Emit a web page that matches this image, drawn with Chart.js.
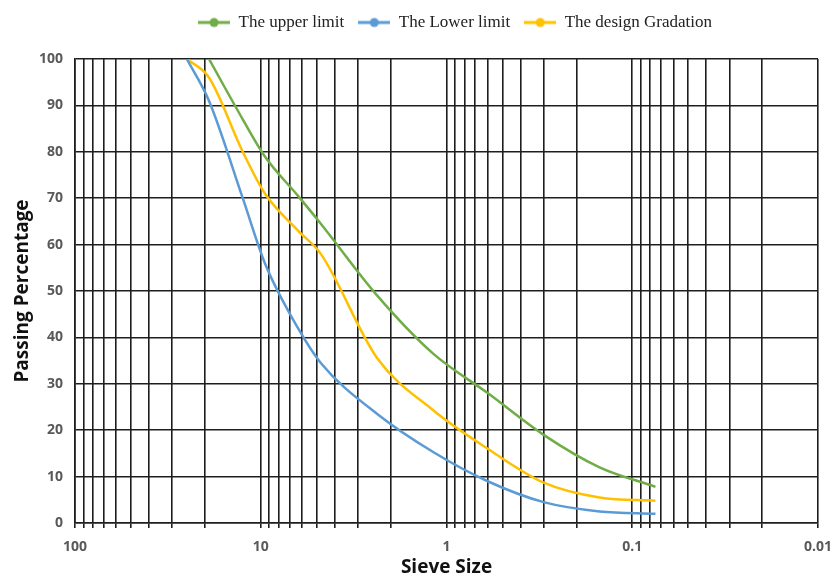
<!DOCTYPE html>
<html>
<head>
<meta charset="utf-8">
<script src="https://cdn.jsdelivr.net/npm/chart.js@4"></script>
<style>
  html, body { margin: 0; padding: 0; background: #fff; }
  #wrap { width: 833px; height: 579px; }
</style>
</head>
<body>
<div id="wrap"><canvas id="gradation-chart" width="833" height="579"></canvas></div>
<script>
// sieve sizes (mm) and passing percentages
var sieves = [25, 19, 12.5, 9.5, 6.3, 4.75, 2.36, 1.18, 0.6, 0.3, 0.15, 0.075];
var upperLimit = [null, 100, 87, 79, 70.5, 64.5, 49, 36.5, 28, 19, 12, 7.8];
var lowerLimit = [100, 91, 70, 56, 42, 34.5, 23.5, 15.3, 9, 4.5, 2.5, 2];
var designGradation = [100, 96, 80, 71, 63, 58, 35.5, 24.3, 16, 8.7, 5.5, 4.8];

var seriesNames = ['The upper limit', 'The Lower limit', 'The design Gradation'];
var seriesColors = ['#70AD47', '#5B9BD5', '#FFC000'];
var xTickLabels = [100, 10, 1, 0.1, 0.01];

function toPoints(values) {
  return sieves.map(function (s, i) { return { x: s, y: values[i] }; });
}

// little line + dot icon for the legend
function legendIcon(color) {
  var c = document.createElement('canvas');
  c.width = 32; c.height = 12;
  var g = c.getContext('2d');
  g.strokeStyle = color;
  g.lineWidth = 3;
  g.beginPath(); g.moveTo(0, 6); g.lineTo(32, 6); g.stroke();
  g.fillStyle = color;
  g.beginPath(); g.arc(16, 6, 4.5, 0, Math.PI * 2); g.fill();
  return c;
}

var allValues = [upperLimit, lowerLimit, designGradation];
var datasets = allValues.map(function (vals, i) {
  return {
    label: seriesNames[i],
    data: toPoints(vals),
    borderColor: seriesColors[i],
    backgroundColor: seriesColors[i],
    borderWidth: 2.5,
    pointRadius: 0,
    pointStyle: legendIcon(seriesColors[i]),
    cubicInterpolationMode: 'monotone',
    fill: false
  };
});

// give the legend some extra room below it and nudge it right like the original
var legendTweak = {
  id: 'legendTweak',
  beforeInit: function (chart) {
    var fit = chart.legend.fit;
    chart.legend.fit = function () {
      fit.call(this);
      this.height += 18;
    };
  },
  afterLayout: function (chart) {
    chart.legend.left += 92;
  }
};

var ctx = document.getElementById('gradation-chart');

var gradationChart = new Chart(ctx, {
  type: 'line',
  data: { datasets: datasets },
  plugins: [legendTweak],
  options: {
    responsive: false,
    animation: false,
    layout: { padding: { top: 0, right: 15, left: 0, bottom: 0 } },
    plugins: {
      legend: {
        position: 'top',
        labels: {
          usePointStyle: true,
          pointStyleWidth: 32,
          padding: 14,
          color: '#222',
          font: { family: '"Liberation Serif", serif', size: 17 }
        }
      },
      tooltip: { enabled: false }
    },
    scales: {
      x: {
        type: 'logarithmic',
        reverse: true,
        min: 0.01,
        max: 100,
        afterBuildTicks: function (scale) {
          var t = [];
          for (var e = -2; e <= 1; e++) {
            for (var m = 1; m <= 9; m++) {
              t.push({ value: +(m * Math.pow(10, e)).toPrecision(3) });
            }
          }
          t.push({ value: 100 });
          scale.ticks = t;
        },
        afterFit: function (scale) { scale.height = 56; },
        ticks: {
          autoSkip: false,
          maxRotation: 0,
          padding: 11,
          color: '#595959',
          font: { family: '"Open Sans", sans-serif', size: 14, weight: 'bold' },
          callback: function (v) {
            return xTickLabels.indexOf(v) >= 0 ? String(v) : '';
          }
        },
        grid: { color: '#1e1e1e', lineWidth: 1.6, tickLength: 5 },
        border: { color: '#1e1e1e', width: 1.6 },
        title: {
          display: true,
          text: 'Sieve Size',
          color: '#111',
          padding: { top: 0, bottom: 0 },
          font: { family: '"Open Sans", sans-serif', size: 19, weight: 'bold' }
        }
      },
      y: {
        min: 0,
        max: 100,
        afterFit: function (scale) { scale.width = 75; },
        ticks: {
          stepSize: 10,
          padding: 12,
          color: '#595959',
          font: { family: '"Open Sans", sans-serif', size: 14, weight: 'bold' }
        },
        grid: { color: '#1e1e1e', lineWidth: 1.6, drawTicks: false },
        border: { color: '#1e1e1e', width: 1.6 },
        title: {
          display: true,
          text: 'Passing Percentage',
          color: '#111',
          padding: { top: 11, bottom: 0 },
          font: { family: '"Open Sans", sans-serif', size: 19, weight: 'bold' }
        }
      }
    }
  }
});
</script>
</body>
</html>
